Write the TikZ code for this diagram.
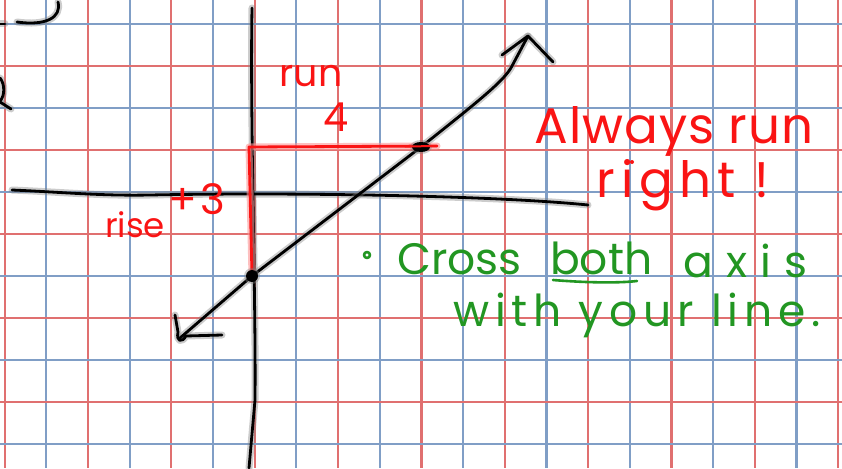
\documentclass[tikz,border=0pt]{standalone}
\usepackage{fontspec}
\setmainfont{Poppins}
\definecolor{gridR}{RGB}{224,112,112}
\definecolor{gridB}{RGB}{128,158,198}
\definecolor{inkR}{RGB}{250,20,20}
\definecolor{inkG}{RGB}{34,150,34}
\begin{document}
\begin{tikzpicture}[x=1pt,y=-1pt,
  gridred/.style={draw=gridR, line width=2.2pt},
  gridblue/.style={draw=gridB, line width=2.2pt},
  halo/.style={draw=black!50, line width=7pt, line cap=round, line join=round, opacity=0.4},
  ink/.style={draw=black, line width=2.8pt, line cap=round, line join=round},
  redhalo/.style={draw=inkR!45, line width=7pt, line cap=round, line join=round, opacity=0.6},
  redink/.style={draw=inkR, line width=2.8pt, line cap=round, line join=round},
  greenink/.style={draw=inkG, line width=2.6pt, line cap=round, line join=round},
  redtext/.style={text=inkR, inner sep=0pt},
  greentext/.style={text=inkG, inner sep=0pt}]
\useasboundingbox (0,0) rectangle (842,468);
\fill[white] (0,0) rectangle (842,468);
% grid
\foreach \k in {0,...,20}{%
  \pgfmathsetmacro{\xx}{4.7+41.67*\k}%
  \ifodd\k \draw[gridblue] (\xx,0) -- (\xx,468); \else \draw[gridred] (\xx,0) -- (\xx,468); \fi}
\foreach \j in {0,...,10}{%
  \pgfmathsetmacro{\yy}{24+42*\j}%
  \ifodd\j \draw[gridred] (0,\yy) -- (842,\yy); \else \draw[gridblue] (0,\yy) -- (842,\yy); \fi}
% coordinates
\coordinate (yTop) at (252,8);
\coordinate (yBot) at (249,468);
\coordinate (xL) at (12,190);
\coordinate (xR) at (588,205);
\coordinate (tipA) at (180,338);
\coordinate (tipB) at (528,36);
\coordinate (p1) at (252,276);
\coordinate (p2) at (421,147);
\coordinate (corner) at (249,147);
\coordinate (runEnd) at (437,146);
% fragments at left edge
\foreach \s in {halo,ink}{
  \draw[\s] (58,2) .. controls (62,18) and (45,26) .. (17,22);
  \draw[\s] (0,24) -- (5,24);
  \draw[\s] (0,78) .. controls (5,84) and (5,96) .. (0,101);
  \draw[\s] (0,102) -- (11,109);
}
% axes
\foreach \s in {halo,ink}{
  \draw[\s] (yTop) .. controls (250,120) and (256,300) .. (255,400) -- (yBot);
  \draw[\s] (xL) .. controls (60,192) and (100,196) .. (150,195) .. controls (300,192) and (500,196) .. (xR);
}
% diagonal line with arrowheads
\foreach \s in {halo,ink}{
  \draw[\s] (tipA) -- (p1) -- (p2) .. controls (480,100) and (505,80) .. (512,66) -- (tipB);
  \draw[\s] (502,55) -- (tipB) -- (553,62);
  \draw[\s] (175,315) -- (178,332) .. controls (176,342) and (182,343) .. (186,336) -- (222,335);
}
% red rise/run
\foreach \s in {redhalo,redink}{
  \draw[\s] (p1) -- (corner) -- (runEnd);
}
\fill[black!50, opacity=0.4] (p2) ellipse (11pt and 7pt);
\fill[black] (p2) ellipse (9pt and 5pt);
\draw[redink, line width=2pt] (405,146.5) -- (runEnd);
\fill[black!50, opacity=0.4] (p1) circle (8pt);
\fill[black] (p1) circle (6pt);
% red labels
\node[redtext, font=\fontsize{38}{38}\selectfont] (run) at (311,76) {run};
\node[redtext, font=\fontsize{40}{40}\selectfont] (four) at (336,117) {4};
\node[redtext, font=\fontsize{42}{42}\selectfont] (plus3) at (197,199) {\addfontfeature{LetterSpace=8}+3};
\node[redtext, font=\fontsize{34}{34}\selectfont] (rise) at (135,225) {rise};
\node[redtext, font=\fontsize{50}{50}\selectfont, anchor=base] (always) at (674,143) {\addfontfeature{LetterSpace=2}Always run};
\node[redtext, font=\fontsize{50}{50}\selectfont, anchor=base] (right) at (683,197) {\addfontfeature{LetterSpace=12}right !};
\fill[inkR] (632,162) circle (2pt);
% green note
\draw[greenink] (367,255) circle (3pt);
\node[greentext, font=\fontsize{44}{44}\selectfont, anchor=base west] (cross) at (397,274) {Cross};
\node[greentext, font=\fontsize{44}{44}\selectfont, anchor=base west] (both) at (550,274) {both};
\node[greentext, font=\fontsize{44}{44}\selectfont, anchor=base west] (axis) at (683,277) {\addfontfeature{LetterSpace=30}axis};
\draw[greenink] (553,280) .. controls (590,283) and (620,283) .. (637,281);
\node[greentext, font=\fontsize{44}{44}\selectfont, anchor=base west] (with) at (453,326) {\addfontfeature{LetterSpace=13}with your line.};
\end{tikzpicture}
\end{document}
